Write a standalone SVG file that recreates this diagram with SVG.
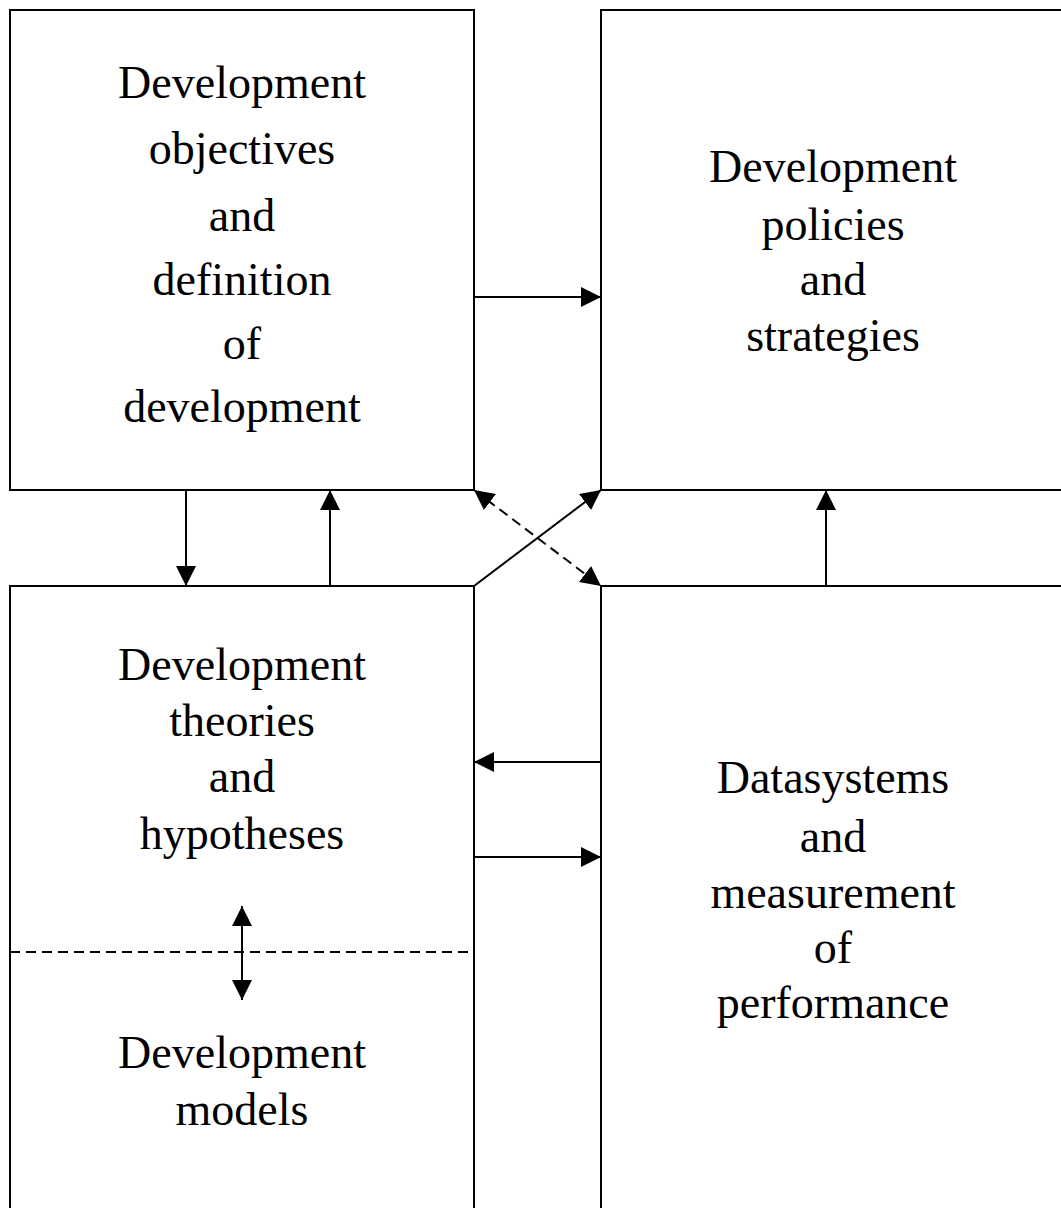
<svg xmlns="http://www.w3.org/2000/svg" width="1061" height="1208" viewBox="0 0 1061 1208">
<style>
.box{fill:#fff;stroke:#000;stroke-width:2}
.t{font-family:"Liberation Serif","Times New Roman",serif;font-size:46px;fill:#000;text-anchor:middle}
.c{stroke:#000;stroke-width:2;fill:none}
.d{stroke:#000;stroke-width:2;fill:none;stroke-dasharray:10 6}
</style>
<defs>
<marker id="ah" viewBox="0 0 20 20" refX="20" refY="10" markerWidth="20" markerHeight="20" markerUnits="userSpaceOnUse" orient="auto-start-reverse">
<path d="M0,0 L20,10 L0,20 Z" fill="#000"/>
</marker>
</defs>
<rect width="1061" height="1208" fill="#fff"/>
<g id="n1">
<rect class="box" x="10" y="10" width="464" height="480"/>
<text class="t" x="242" y="98">Development</text>
<text class="t" x="242" y="164">objectives</text>
<text class="t" x="242" y="231">and</text>
<text class="t" x="242" y="295">definition</text>
<text class="t" x="242" y="359">of</text>
<text class="t" x="242" y="422">development</text>
</g>
<g id="n2">
<rect class="box" x="601" y="10" width="470" height="480"/>
<text class="t" x="833" y="182">Development</text>
<text class="t" x="833" y="240">policies</text>
<text class="t" x="833" y="295">and</text>
<text class="t" x="833" y="351">strategies</text>
</g>
<g id="n3">
<rect class="box" x="10" y="586" width="464" height="640"/>
<text class="t" x="242" y="680">Development</text>
<text class="t" x="242" y="736">theories</text>
<text class="t" x="242" y="792">and</text>
<text class="t" x="242" y="849">hypotheses</text>
<line class="d" x1="10" y1="952" x2="474" y2="952"/>
<text class="t" x="242" y="1068">Development</text>
<text class="t" x="242" y="1125">models</text>
</g>
<g id="n4">
<rect class="box" x="601" y="586" width="470" height="640"/>
<text class="t" x="833" y="793">Datasystems</text>
<text class="t" x="833" y="852">and</text>
<text class="t" x="833" y="908">measurement</text>
<text class="t" x="833" y="963">of</text>
<text class="t" x="833" y="1018">performance</text>
</g>
<g id="connectors">
<line class="c" x1="474" y1="297" x2="601" y2="297" marker-end="url(#ah)"/>
<line class="c" x1="186" y1="490" x2="186" y2="586" marker-end="url(#ah)"/>
<line class="c" x1="330" y1="586" x2="330" y2="490" marker-end="url(#ah)"/>
<line class="c" x1="826" y1="586" x2="826" y2="490" marker-end="url(#ah)"/>
<line class="c" x1="601" y1="762" x2="474" y2="762" marker-end="url(#ah)"/>
<line class="c" x1="474" y1="857" x2="601" y2="857" marker-end="url(#ah)"/>
<line class="c" x1="474" y1="586" x2="601" y2="490" marker-end="url(#ah)"/>
<line class="d" x1="474" y1="490" x2="601" y2="586" marker-start="url(#ah)" marker-end="url(#ah)"/>
<line class="c" x1="242" y1="906" x2="242" y2="1000" marker-start="url(#ah)" marker-end="url(#ah)"/>
</g>
</svg>
